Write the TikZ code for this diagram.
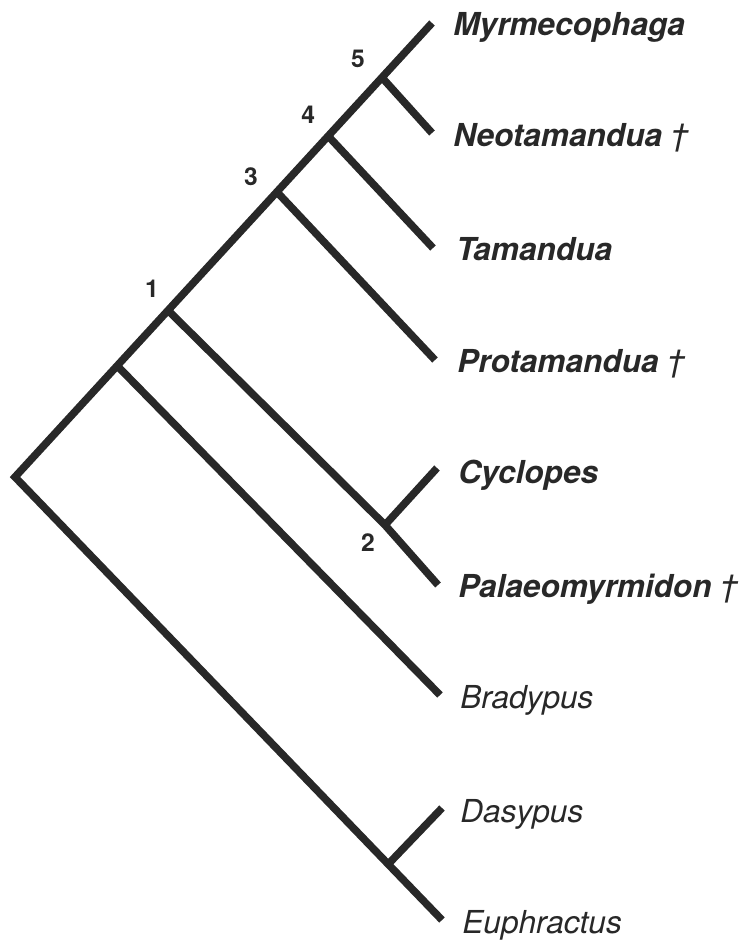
\documentclass[tikz,border=0pt]{standalone}
\usepackage{fontspec}
\setmainfont{TeX Gyre Heros}
\usetikzlibrary{calc,positioning}
\definecolor{inkgray}{RGB}{40,40,40}
\tikzset{
    branch/.style={
        draw=inkgray,
        line width=4.3pt,
        line cap=butt,
        line join=miter
    },
    taxon/.style={
        anchor=base west,
        inner sep=0pt,
        text=inkgray,
        font=\fontsize{18}{20}\selectfont\itshape
    },
    anteater/.style={
        taxon,
        font=\fontsize{18}{20}\selectfont\bfseries\itshape
    },
    cladenum/.style={
        inner sep=0pt,
        text=inkgray,
        font=\fontsize{14}{16}\selectfont\bfseries
    }
}
\begin{document}
\begin{tikzpicture}[x=0.02cm, y=-0.02cm]
        \useasboundingbox (0,0) rectangle (742,943);

        % Root and leaf tips
        \coordinate (root) at (15,477);
        \coordinate (tMyr) at (432,23);
        \coordinate (tNeo) at (432,133);
        \coordinate (tTam) at (433,248);
        \coordinate (tPro) at (435,360);
        \coordinate (tCyc) at (437,468);
        \coordinate (tPal) at (438,585);
        \coordinate (tBra) at (440,695);
        \coordinate (tDas) at (442,808);
        \coordinate (tEup) at (442,920);

        % Internal nodes
        \coordinate (nB) at ($(root)!0.245!(tMyr)$);
        \coordinate (n1) at ($(root)!0.367!(tMyr)$);
        \coordinate (n3) at ($(root)!0.628!(tMyr)$);
        \coordinate (n4) at ($(root)!0.751!(tMyr)$);
        \coordinate (n5) at ($(root)!0.880!(tMyr)$);
        \coordinate (n2) at (385,525);
        \coordinate (nD) at ($(root)!0.874!(tEup)$);

        % Branches
        \draw [branch] (tMyr) -- (root) -- (tEup);
        \draw [branch] (n5) -- (tNeo);
        \draw [branch] (n4) -- (tTam);
        \draw [branch] (n3) -- (tPro);
        \draw [branch] (n1) -- (n2) -- (tPal);
        \draw [branch] (n2) -- (tCyc);
        \draw [branch] (nB) -- (tBra);
        \draw [branch] (nD) -- (tDas);

        % Clade numbers
        \node (c1) [cladenum] at ($(n1)+(-16,-22)$) {1};
        \node (c2) [cladenum] at ($(n2)+(-17,18)$) {2};
        \node (c3) [cladenum] at ($(n3)+(-26,-15)$) {3};
        \node (c4) [cladenum] at ($(n4)+(-20,-21)$) {4};
        \node (c5) [cladenum] at ($(n5)+(-24,-19)$) {5};

        % Taxon names
        \node (myr) [anteater] at ($(tMyr)+(21,12)$) {Myrmecophaga};
        \node (neo) [anteater] at ($(tNeo)+(21,13)$) {Neotamandua {\mdseries †}};
        \node (tam) [anteater] at ($(tTam)+(23,12)$) {Tamandua};
        \node (pro) [anteater] at ($(tPro)+(22,12)$) {Protamandua {\mdseries †}};
        \node (cyc) [anteater] at ($(tCyc)+(21,15)$) {Cyclopes};
        \node (pal) [anteater] at ($(tPal)+(20,12)$) {Palaeomyrmidon {\mdseries †}};
        \node (bra) [taxon] at ($(tBra)+(20,13)$) {Bradypus};
        \node (das) [taxon] at ($(tDas)+(18,14)$) {Dasypus};
        \node (eup) [taxon] at ($(tEup)+(20,13)$) {Euphractus};

    \end{tikzpicture}
\end{document}
